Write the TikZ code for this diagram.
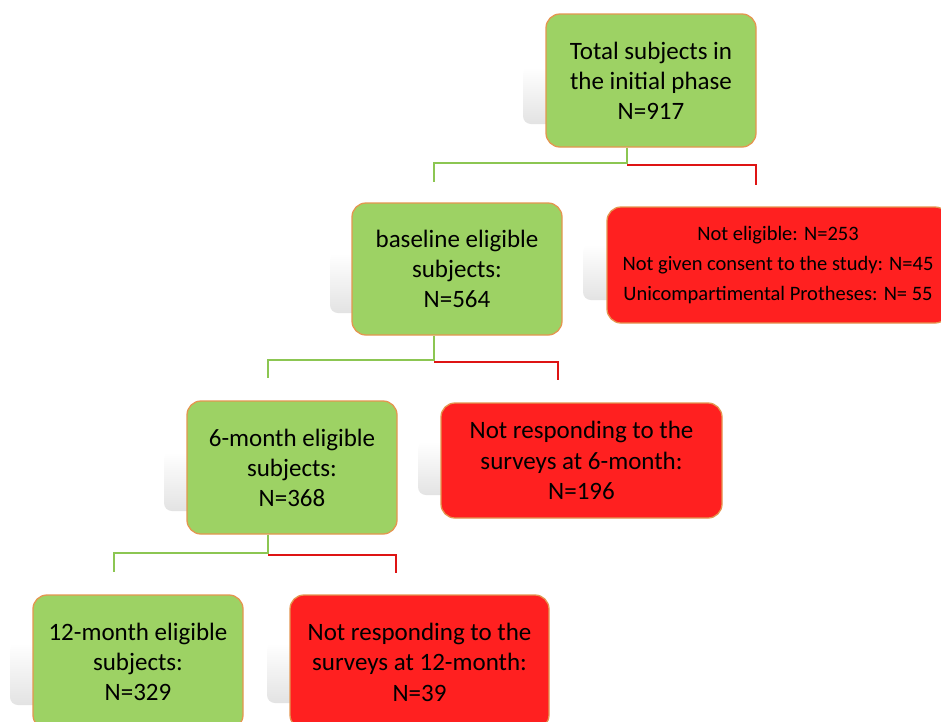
\documentclass[tikz,border=0pt]{standalone}
\usepackage{fontspec}
\setmainfont{Carlito}
\definecolor{gfill}{RGB}{157,210,100}
\definecolor{rfill}{RGB}{255,32,32}
\definecolor{boxedge}{RGB}{228,150,80}
\definecolor{cgreenline}{RGB}{140,198,82}
\definecolor{credline}{RGB}{222,20,20}
\begin{document}
\begin{tikzpicture}[x=1pt,y=-1pt,
  box/.style={draw=boxedge, line width=1.3pt, rounded corners=14pt, align=center, inner sep=0pt, text=black},
  gbox/.style={box, fill=gfill, font=\fontsize{25}{30}\selectfont},
  rbox/.style={box, fill=rfill, font=\fontsize{25}{30.5}\selectfont},
  shadowbox/.style={top color=white, bottom color=black!11, rounded corners=8pt},
  greenconn/.style={draw=cgreenline, line width=2pt},
  redconn/.style={draw=credline, line width=2pt}
]
\clip (0,0) rectangle (941,721);
\fill[white] (0,0) rectangle (941,721);

% shadows
\shade[shadowbox] (523,67) rectangle (733,124);
\shade[shadowbox] (330,253) rectangle (539,313);
\shade[shadowbox] (583,245) rectangle (900,300);
\shade[shadowbox] (164,452) rectangle (374,511);
\shade[shadowbox] (418,442) rectangle (700,495);
\shade[shadowbox] (10,643) rectangle (220,705);
\shade[shadowbox] (267,643) rectangle (526,703);

% boxes
\node[gbox, minimum width=210pt, minimum height=133pt] (top) at (651,80.5)
  {Total subjects in\\the initial phase\\N=917};
\node[gbox, minimum width=210pt, minimum height=132pt] (base) at (457,269)
  {baseline eligible\\subjects:\\N=564};
\node[rbox, minimum width=342pt, minimum height=116pt, font=\fontsize{20.5}{30}\selectfont] (nelig) at (778,265)
  {Not eligible: N=253\\Not given consent to the study: N=45\\Unicompartimental Protheses: N= 55};
\node[gbox, minimum width=210pt, minimum height=133pt] (six) at (292,467.5)
  {6-month eligible\\subjects:\\N=368};
\node[rbox, minimum width=281pt, minimum height=115pt] (nr6) at (581.5,460.5)
  {Not responding to the\\surveys at 6-month:\\N=196};
\node[gbox, minimum width=210pt, minimum height=134pt] (twelve) at (138,662)
  {12-month eligible\\subjects:\\N=329};
\node[rbox, minimum width=259pt, minimum height=134pt] (nr12) at (419.5,662)
  {Not responding to the\\surveys at 12-month:\\N=39};

% connector coordinates
\coordinate (j1) at (627,163);
\coordinate (j1r) at (627,165);
\coordinate (g1) at (434,182);
\coordinate (r1) at (756,185);
\coordinate (j2) at (434,360);
\coordinate (j2r) at (434,362);
\coordinate (g2) at (268,378);
\coordinate (r2) at (558,380);
\coordinate (j3) at (268,553);
\coordinate (j3r) at (268,555);
\coordinate (g3) at (114,572);
\coordinate (r3) at (396,573);

% connectors
\draw[greenconn] (top.south -| j1) -- (j1) -| (g1);
\draw[redconn] (j1r) -| (r1);
\draw[greenconn] (base.south -| j2) -- (j2) -| (g2);
\draw[redconn] (j2r) -| (r2);
\draw[greenconn] (six.south -| j3) -- (j3) -| (g3);
\draw[redconn] (j3r) -| (r3);
\end{tikzpicture}
\end{document}
